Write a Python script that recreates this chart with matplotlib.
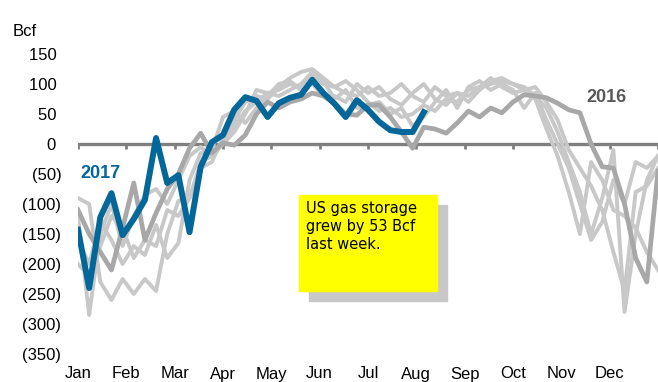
import matplotlib
matplotlib.use("Agg")
import matplotlib.pyplot as plt
import numpy as np

plt.rcParams['font.family'] = ['Liberation Sans', 'DejaVu Sans']

months = ["Jan", "Feb", "Mar", "Apr", "May", "Jun", "Jul", "Aug", "Sep", "Oct", "Nov", "Dec"]
yticks = [150, 100, 50, 0, -50, -100, -150, -200, -250, -300, -350]
ytick_labels = ["150", "100", "50", "0", "(50)", "(100)", "(150)", "(200)", "(250)", "(300)", "(350)"]

# weekly storage change, Bcf (week index 0 = first week of January)
y2017 = [-143, -240, -122, -82, -152, -125, -93, 10, -65, -52, -147,
         -38, 3, 15, 57, 78, 72, 45, 68, 77, 82, 107, 85, 67, 45, 73, 57,
         37, 23, 20, 20, 53]

y2016 = [-110, -150, -180, -210, -140, -65, -160, -115, -75, -50, -7,
         18, -15, 2, -2, 15, 50, 70, 60, 70, 75, 85, 80, 68, 50, 48, 65,
         65, 45, 20, -7, 28, 25, 18, 35, 55, 45, 60, 52, 70, 82, 80, 77,
         68, 57, 52, 0, -38, -40, -100, -190, -230, -45]

hist_a = [-120, -285, -150, -100, -170, -120, -85, -75, -100, -60, -20,
          -5, -20, 5, 30, 55, 70, 85, 90, 100, 95, 115, 100, 95, 105, 90, 70,
          55, 60, 45, 50, 65, 55, 75, 70, 90, 95, 100, 105, 100, 90, 95, 70,
          40, -10, -40, -70, -110, -180, -245, -80, -70, -40]
hist_b = [-90, -100, -230, -260, -225, -250, -225, -245, -150, -95, -90,
          -40, -30, 10, 40, 70, 80, 75, 95, 110, 120, 125, 110, 95, 85, 80, 95,
          80, 85, 100, 80, 70, 95, 80, 85, 70, 90, 105, 110, 100, 95, 80, 60,
          20, -30, -80, -150, -90, -10, -280, -150, -60, -20]
hist_c = [-160, -200, -130, -160, -200, -170, -185, -135, -190, -165, -60,
          -15, -10, 45, 55, 35, 60, 80, 100, 105, 90, 100, 80, 80, 70, 100, 85,
          95, 75, 65, 85, 100, 75, 65, 85, 80, 95, 110, 95, 85, 90, 75, 25,
          -20, -80, -150, -30, -60, -110, -120, -140, -180, -210]
hist_d = [-200, -220, -170, -120, -140, -190, -160, -170, -110, -120, -90,
          -30, -20, 0, 20, 50, 90, 85, 80, 90, 100, 120, 105, 75, 90, 60, 65,
          70, 50, 60, 30, 45, 70, 90, 60, 95, 105, 90, 100, 90, 60, 85, 40,
          0, -40, -100, -160, -130, -60, -100, -30, -40, -20]

note = "US gas storage\ngrew by 53 Bcf\nlast week."

W, H = 658, 382
fig = plt.figure(figsize=(W / 100, H / 100), dpi=100)
ax = fig.add_axes([78 / W, (H - 354) / H, 580 / W, 300 / H])
ax.set_xlim(0, 52)
ax.set_ylim(-350, 150)
for s in ax.spines.values():
    s.set_visible(False)

light = "#c8c8c8"
for h in [hist_a, hist_b, hist_c, hist_d]:
    ax.plot(np.arange(len(h)), h, color=light, lw=2.8, zorder=2)
ax.plot(np.arange(len(y2016)), y2016, color="#a8a8a8", lw=3.4, zorder=3)
ax.plot(np.arange(len(y2017)), y2017, color="#04679a", lw=4.3, zorder=4)

# zero axis with month ticks
mpos = np.arange(13) * 52 / 12
ax.axhline(0, color="#808080", lw=2.4, zorder=1)
ax.vlines(mpos, -8, 0, color="#808080", lw=2.0, zorder=1)

ax.set_xticks(mpos[:12])
ax.set_xticklabels(months, fontsize=12)
ax.tick_params(axis="x", length=0, pad=9)

ax.set_yticks(yticks)
ax.set_yticklabels([l if l.startswith("(") else l + " " for l in ytick_labels], fontsize=12)
ax.tick_params(axis="y", length=0, pad=12)

fig.text(13 / W, 1 - 31 / H, "Bcf", fontsize=12, va="center", ha="left")
ax.text(0.2, -50, "2017", fontsize=13, fontweight="bold", color="#04679a",
        va="center", ha="left")
ax.text(45.6, 78, "2016", fontsize=13, fontweight="bold", color="#595959",
        va="center", ha="left")

# annotation box with shadow
fig.patches.append(plt.Rectangle((309 / W, 1 - 301 / H), 138 / W, 96 / H,
                                 transform=fig.transFigure, color="#c8c8c8", zorder=5))
fig.patches.append(plt.Rectangle((299 / W, 1 - 291 / H), 138 / W, 96 / H,
                                 transform=fig.transFigure, color="#ffff00", zorder=6))
fig.text(306 / W, 1 - 201 / H, note, fontsize=10.5, va="top", ha="left",
         family="DejaVu Sans", linespacing=1.25, zorder=7)

fig.savefig("out.png", dpi=100)
